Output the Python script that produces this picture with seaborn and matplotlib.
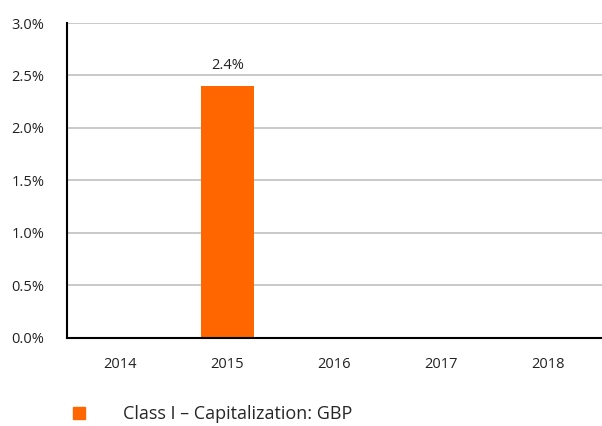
import numpy as np
import pandas as pd
import matplotlib
matplotlib.use('Agg')
import matplotlib.pyplot as plt
from matplotlib.lines import Line2D
from matplotlib.ticker import FuncFormatter, FixedLocator
import seaborn as sns

years = ['2014', '2015', '2016', '2017', '2018']
returns = [0.0, 2.4, 0.0, 0.0, 0.0]
series_name = 'Class I – Capitalization: GBP'
bar_color = '#ff6600'

sns.set_theme(style='white')
plt.rcParams['font.family'] = ['Open Sans', 'DejaVu Sans']

df = pd.DataFrame({'year': years, 'value': returns})

fig = plt.figure(figsize=(6.02, 4.26), dpi=100)
ax = fig.add_axes([0.111, 0.207, 0.889, 0.739])

sns.barplot(data=df, x='year', y='value', color=bar_color, width=0.5,
            saturation=1, linewidth=0, ax=ax, zorder=3)

ax.set_xlim(-0.5, len(years) - 0.5)
ax.set_ylim(0, 3.0)
ax.set_yticks(np.arange(0, 3.01, 0.5))
ax.yaxis.set_major_formatter(FuncFormatter(lambda v, p: f'{v:.1f}%'))
ax.grid(axis='y', color='#c0c0c0', linewidth=1.2, zorder=0)
ax.set_xlabel('')
ax.set_ylabel('')

for s in ['top', 'right']:
    ax.spines[s].set_visible(False)
for s in ['left', 'bottom']:
    ax.spines[s].set_color('black')
    ax.spines[s].set_linewidth(1.5)
    ax.spines[s].set_zorder(4)

ax.tick_params(axis='y', length=0, pad=16, labelsize=10.5, colors='#222222')
ax.tick_params(axis='x', which='major', length=0, pad=14, labelsize=10.5, colors='#222222')
ax.xaxis.set_minor_locator(FixedLocator(np.arange(-0.5, len(years), 1.0)))
ax.tick_params(axis='x', which='minor', length=6, width=1.5, color='black', direction='out')

for i, v in enumerate(returns):
    if v > 0:
        ax.text(i, v + 0.12, f'{v:.1f}%', ha='center', va='bottom', fontsize=10.5, color='#222222')

handle = Line2D([], [], marker='s', linestyle='none', color=bar_color, markersize=9)
fig.legend([handle], [series_name], loc='center left', bbox_to_anchor=(0.123, 0.027),
           frameon=False, fontsize=13, handlelength=0.6, handletextpad=2.1, borderaxespad=0,
           borderpad=0)

fig.savefig('out.png', dpi=100)
